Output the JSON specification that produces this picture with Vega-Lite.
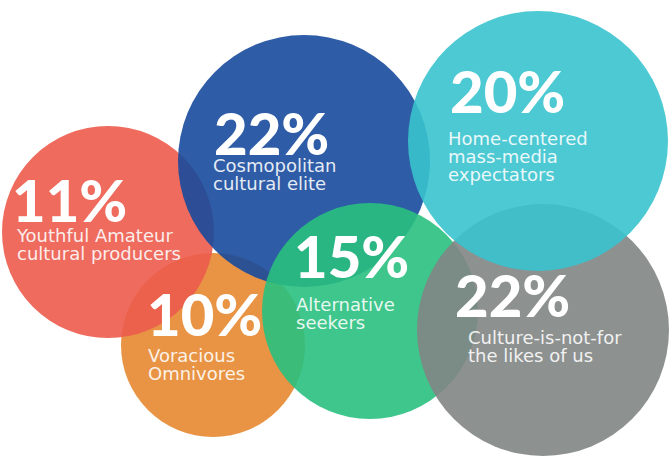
{
  "$schema": "https://vega.github.io/schema/vega-lite/v6.json",
  "width": 672,
  "height": 458,
  "autosize": {"type": "fit", "contains": "padding"},
  "padding": 0,
  "background": "white",
  "config": {"view": {"stroke": null}},
  "data": {
    "values": [
      {"segment": "Voracious Omnivores", "share": 0.10, "label": "Voracious\nOmnivores", "cx": 213, "cy": 345, "px": 147, "py": 336, "lx": 148, "ly": 362},
      {"segment": "Youthful Amateur cultural producers", "share": 0.11, "label": "Youthful Amateur\ncultural producers", "cx": 108, "cy": 232, "px": 12, "py": 222, "lx": 17, "ly": 242},
      {"segment": "Cosmopolitan cultural elite", "share": 0.22, "label": "Cosmopolitan\ncultural elite", "cx": 304, "cy": 161, "px": 214, "py": 155, "lx": 213, "ly": 172},
      {"segment": "Alternative seekers", "share": 0.15, "label": "Alternative\nseekers", "cx": 370, "cy": 311, "px": 294, "py": 278, "lx": 296, "ly": 311},
      {"segment": "Culture-is-not-for the likes of us", "share": 0.22, "label": "Culture-is-not-for\nthe likes of us", "cx": 543, "cy": 330, "px": 455, "py": 317, "lx": 468, "ly": 344},
      {"segment": "Home-centered mass-media expectators", "share": 0.20, "label": "Home-centered\nmass-media\nexpectators", "cx": 538, "cy": 141, "px": 450, "py": 113, "lx": 448, "ly": 145}
    ]
  },
  "layer": [
    {
      "mark": {"type": "point", "shape": "circle", "filled": true, "opacity": 0.9, "strokeWidth": 0},
      "encoding": {
        "x": {"field": "cx", "type": "quantitative", "scale": {"domain": [0, 672], "nice": false, "zero": false}, "axis": null},
        "y": {"field": "cy", "type": "quantitative", "scale": {"domain": [0, 458], "nice": false, "zero": false, "reverse": true}, "axis": null},
        "size": {
          "field": "segment", "type": "nominal", "legend": null,
          "scale": {
            "type": "ordinal",
            "domain": ["Voracious Omnivores", "Youthful Amateur cultural producers", "Cosmopolitan cultural elite", "Alternative seekers", "Culture-is-not-for the likes of us", "Home-centered mass-media expectators"],
            "range": [33856, 44944, 63504, 46656, 63504, 67600]
          }
        },
        "color": {
          "field": "segment", "type": "nominal", "legend": null,
          "scale": {
            "domain": ["Voracious Omnivores", "Youthful Amateur cultural producers", "Cosmopolitan cultural elite", "Alternative seekers", "Culture-is-not-for the likes of us", "Home-centered mass-media expectators"],
            "range": ["#E68830", "#EC5B4D", "#174A9C", "#29C07F", "#818584", "#38C3CE"]
          }
        }
      }
    },
    {
      "mark": {"type": "text", "align": "left", "baseline": "alphabetic", "font": "Lato", "fontWeight": 900, "fontSize": 58, "color": "white"},
      "encoding": {
        "x": {"field": "px", "type": "quantitative"},
        "y": {"field": "py", "type": "quantitative"},
        "text": {"field": "share", "type": "quantitative", "format": ".0%"}
      }
    },
    {
      "mark": {"type": "text", "align": "left", "baseline": "alphabetic", "font": "DejaVu Sans", "fontSize": 18, "lineHeight": 18, "lineBreak": "\n", "color": "white", "opacity": 0.88},
      "encoding": {
        "x": {"field": "lx", "type": "quantitative"},
        "y": {"field": "ly", "type": "quantitative"},
        "text": {"field": "label", "type": "nominal"}
      }
    }
  ]
}
